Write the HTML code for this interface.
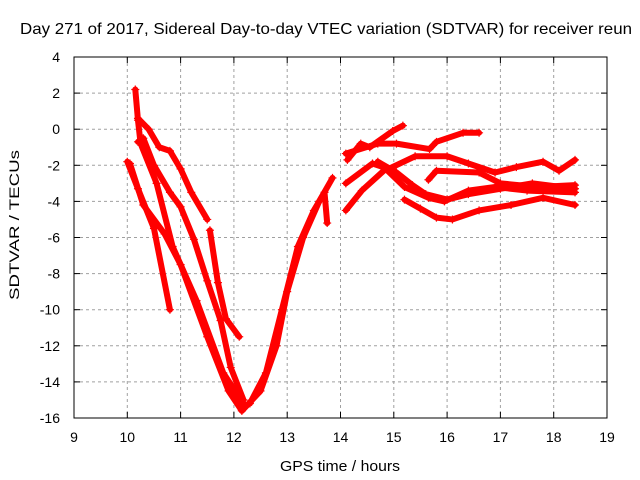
<!DOCTYPE html>
<html><head><meta charset="utf-8"><style>
body{margin:0;background:#fff}
svg{display:block;font-family:"Liberation Sans",sans-serif}
</style></head><body>
<svg id="c" width="640" height="480" xmlns="http://www.w3.org/2000/svg">
<text x="20" y="34" font-size="16" textLength="612" lengthAdjust="spacingAndGlyphs">Day 271 of 2017, Sidereal Day-to-day VTEC variation (SDTVAR) for receiver reun</text>
<text x="340" y="471" font-size="15" textLength="120" lengthAdjust="spacingAndGlyphs" text-anchor="middle">GPS time / hours</text>
<text transform="translate(19,225) rotate(-90)" font-size="14" textLength="150" lengthAdjust="spacingAndGlyphs" text-anchor="middle">SDTVAR / TECUs</text>
<g id="grid"></g>
<g id="ticks"></g>
<g id="series"></g>
<rect x="74" y="57" width="533" height="361" fill="none" stroke="#000" stroke-width="1"/>
</svg>
<script>
const xTicks=[9,10,11,12,13,14,15,16,17,18,19];
const yTicks=[4,2,0,-2,-4,-6,-8,-10,-12,-14,-16];
const trackA=[[10.0,-1.8],[10.2,-3.3],[10.5,-5.5],[10.8,-10]];
const trackB=[[10.05,-1.9],[10.3,-4.2],[10.7,-5.8],[11.0,-7.5],[11.5,-11.5],[11.9,-14.5],[12.15,-15.6]];
const trackC=[[10.15,2.2],[10.2,0.5],[10.25,-0.8],[10.55,-3.0],[10.85,-6.5],[11.3,-9.5],[11.8,-13.5],[12.2,-15.3]];
const trackD=[[10.2,0.6],[10.4,0],[10.6,-1.0],[10.8,-1.2],[11.0,-2.2],[11.2,-3.5],[11.5,-5.0]];
const trackE=[[10.2,-0.7],[10.3,-0.5],[10.5,-2.0],[10.8,-3.5],[11.0,-4.3],[11.25,-6.1],[11.5,-8.4],[11.75,-10.6],[11.94,-13.2],[12.18,-15.0]];
const trackF=[[11.55,-5.6],[11.7,-8.5],[11.85,-10.5],[12.1,-11.5]];
const riseA=[[12.15,-15.6],[12.5,-14.5],[12.8,-12],[13.0,-9],[13.3,-6],[13.6,-4],[13.85,-2.7]];
const riseB=[[12.3,-15.2],[12.6,-13.5],[12.9,-10],[13.2,-6.5],[13.5,-4.5],[13.7,-3.5],[13.75,-5.2]];
const trackG=[[14.13,-1.7],[14.38,-0.8],[14.55,-1.0],[14.98,-0.1],[15.17,0.2]];
const trackH=[[14.1,-1.35],[14.7,-0.8],[15.05,-0.8],[15.67,-1.1],[15.8,-0.7],[16.3,-0.2],[16.6,-0.2]];
const trackI=[[14.1,-3.0],[14.6,-1.9],[14.9,-2.2],[15.4,-1.5],[16.0,-1.5],[16.4,-1.9],[16.9,-2.4],[17.3,-2.1],[17.8,-1.8],[18.1,-2.3],[18.4,-1.7]];
const trackJ=[[14.1,-4.5],[14.4,-3.4],[14.85,-2.2],[15.2,-3.2],[15.65,-3.8],[15.95,-4.0],[16.4,-3.4],[16.9,-3.2],[17.5,-3.4],[18.4,-3.5]];
const trackK=[[14.7,-1.8],[15.05,-2.4],[15.35,-3.1],[15.6,-3.6],[16.0,-3.9],[16.4,-3.6],[17.0,-3.3],[17.6,-3.0],[18.4,-3.3]];
const trackL=[[15.2,-3.9],[15.5,-4.4],[15.8,-4.9],[16.1,-5.0],[16.6,-4.5],[17.2,-4.2],[17.8,-3.8],[18.4,-4.2]];
const trackM=[[15.65,-2.8],[15.8,-2.3],[16.6,-2.4],[17.0,-3.0],[17.7,-3.2],[18.4,-3.1]];
const allTracks=[trackA,trackB,trackC,trackD,trackE,trackF,riseA,riseB,trackG,trackH,trackI,trackJ,trackK,trackL,trackM];
const NS='http://www.w3.org/2000/svg';
const X=h=>74+(h-9)*53.3, Y=v=>57+(4-v)*18.05;
const grid=document.getElementById('grid'),ticks=document.getElementById('ticks'),ser=document.getElementById('series');
function mk(tag,attrs,parent){const e=document.createElementNS(NS,tag);for(const k in attrs)e.setAttribute(k,attrs[k]);parent.appendChild(e);return e;}
xTicks.forEach(t=>{const x=X(t);
 if(t>9&&t<19){const g=mk('line',{x1:x,x2:x,y1:57,y2:418,stroke:'#a0a0a0','stroke-dasharray':'3,3'},grid);}
 const l=mk('line',{x1:x,x2:x,y1:418,y2:412,stroke:'#000'},ticks);
 const l2=mk('line',{x1:x,x2:x,y1:57,y2:63,stroke:'#000'},ticks);
 const tx=mk('text',{x:x,y:442,'font-size':14,'text-anchor':'middle'},ticks);tx.textContent=t;});
yTicks.forEach(t=>{const y=Y(t);
 if(t<4&&t>-16){const g=mk('line',{x1:74,x2:607,y1:y,y2:y,stroke:'#a0a0a0','stroke-dasharray':'3,3'},grid);}
 const l=mk('line',{x1:74,x2:80,y1:y,y2:y,stroke:'#000'},ticks);
 const l2=mk('line',{x1:601,x2:607,y1:y,y2:y,stroke:'#000'},ticks);
 const tx=mk('text',{x:60,y:y+5,'font-size':14,'text-anchor':'end'},ticks);tx.textContent=t;});
allTracks.forEach(tr=>{
 const p=mk('polyline',{points:tr.map(d=>X(d[0])+','+Y(d[1])).join(' '),fill:'none',stroke:'#f00','stroke-width':6,'stroke-linejoin':'round','stroke-linecap':'round'},ser);
 
 
 tr.forEach(d=>{const x=X(d[0]),y=Y(d[1]);
  const m=mk('path',{d:`M${x-4},${y}h8M${x},${y-4}v8`,stroke:'#f00','stroke-width':1.2},ser);
  
  });
});
</script>
</body></html>
